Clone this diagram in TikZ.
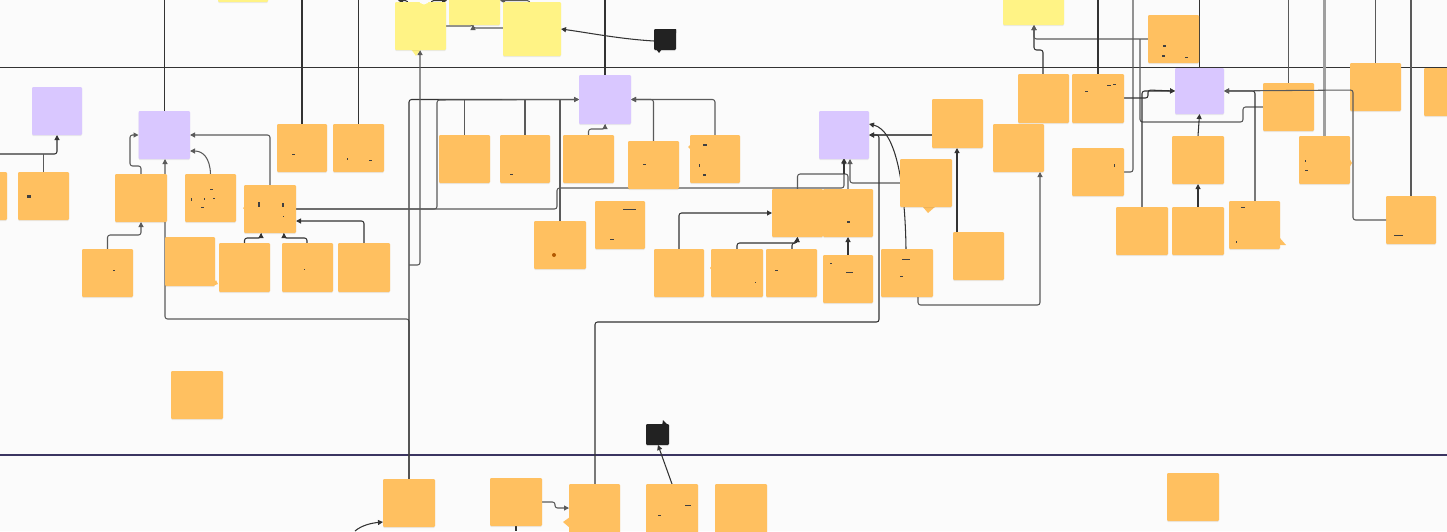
\documentclass[tikz,border=0pt]{standalone}
\usetikzlibrary{arrows.meta,shadows,backgrounds}
\pgfdeclarelayer{bglayer}
\pgfdeclarelayer{lines}
\pgfsetlayers{bglayer,lines,main}
\definecolor{cbg}{HTML}{FBFBFB}
\definecolor{corange}{HTML}{FFC060}
\definecolor{cpurple}{HTML}{D9C7FF}
\definecolor{cyellow}{HTML}{FFF385}
\definecolor{cblack}{HTML}{222222}
\definecolor{cdark}{HTML}{333333}
\definecolor{cgray}{HTML}{5A5A5A}
\definecolor{cnavy}{HTML}{3B3561}
\tikzset{
  note/.style={inner sep=0pt,outer sep=0pt,rounded corners=1.2pt,
    drop shadow={shadow xshift=0pt,shadow yshift=-1pt,opacity=.07,fill=black}},
  orangenote/.style={note,fill=corange},
  purplenote/.style={note,fill=cpurple},
  yellownote/.style={note,fill=cyellow},
  blacknote/.style={note,fill=cblack},
  conn/.style={draw=cdark,line width=1.05pt,rounded corners=2.5pt},
  conngray/.style={conn,draw=cgray},
  tip/.style={-{Triangle[length=5pt,width=5pt]}},
  arr/.style={conn,tip},
  arrgray/.style={conngray,tip},
  lane/.style={line width=1.4pt},
}
\newcommand{\notebox}[6]{%
  \node[#6,minimum width={(#4-#2)*1pt},minimum height={(#5-#3)*1pt}] (#1) at ({(#2+#4)/2},{(#3+#5)/2}) {};}
\begin{document}
\begin{tikzpicture}[x=1pt,y=-1pt]
\path[use as bounding box] (0,0) rectangle (1447,531);
\begin{pgfonlayer}{bglayer}
\fill[cbg] (0,0) rectangle (1447,531);
\end{pgfonlayer}
\coordinate (topedge) at (0,0);
\coordinate (bottomedge) at (0,531);
\coordinate (leftlane) at (0,67.5);
\coordinate (rightlane) at (1447,67.5);
\coordinate (leftnavy) at (0,455);
\coordinate (rightnavy) at (1447,455);
\coordinate (leftin) at (0,154);
\coordinate (curvein) at (355,531);
% tails
\fill[corange] (216,280) -- (218,284) -- (212,286) -- cycle;
\fill[corange] (243,208) -- (246,205) -- (246,211) -- cycle;
\fill[corange] (710,268) -- (713,264) -- (713,272) -- cycle;
\fill[corange] (563,522) -- (570,517) -- (570,528) -- cycle;
\fill[corange] (688,147) -- (691,144) -- (691,150) -- cycle;
\fill[corange] (928,213) -- (922,206) -- (936,206) -- cycle;
\fill[corange] (1286,245) -- (1279,237) -- (1279,245) -- cycle;
\fill[corange] (1352,163) -- (1349,158) -- (1349,168) -- cycle;
\fill[cyellow] (416,56) -- (411,49) -- (421,49) -- cycle;
\fill[cblack] (659,53) -- (656,49) -- (662,49) -- cycle;
\fill[cblack] (663,420) -- (662,426) -- (669,426) -- cycle;
\fill[cblack] (676,33) -- (672,29) -- (676,29) -- cycle;
% purple
\notebox{P1}{32}{87}{82}{135}{purplenote}
\notebox{P2}{138.5}{111}{190}{159}{purplenote}
\notebox{P3}{579}{75}{631}{124}{purplenote}
\notebox{P4}{819}{111}{869}{159}{purplenote}
\notebox{P5}{1175}{68}{1224}{114}{purplenote}
% yellow
\notebox{Y0}{218}{-20}{268}{2}{yellownote}
\notebox{Y1}{395}{2}{446}{50}{yellownote}
\notebox{Y2}{449}{-20}{500}{25}{yellownote}
\notebox{Y3}{503}{2}{561}{56}{yellownote}
\notebox{Y4}{1003}{-20}{1064}{25}{yellownote}
\fill[cbg] (424,-1) circle (5.5pt);
% black
\notebox{B1}{654}{29}{676}{50}{blacknote}
\notebox{B2}{646}{424}{669}{445}{blacknote}
% orange
\notebox{A}{-40}{172}{7}{220}{orangenote}
\notebox{B}{18}{172}{69}{220}{orangenote}
\notebox{C}{115}{174}{167}{222}{orangenote}
\notebox{D}{185}{174}{236}{222}{orangenote}
\notebox{E}{244}{185}{296}{233}{orangenote}
\notebox{F}{277}{124}{327}{172}{orangenote}
\notebox{G}{333}{124}{384}{172}{orangenote}
\notebox{H}{82}{249}{133}{297}{orangenote}
\notebox{I}{165}{237}{215}{286}{orangenote}
\notebox{J}{219}{243}{270}{292}{orangenote}
\notebox{K}{282}{243}{333}{292}{orangenote}
\notebox{L}{338}{243}{390}{292}{orangenote}
\notebox{BG}{171}{371}{223}{419}{orangenote}
\notebox{M}{439}{135}{490}{183}{orangenote}
\notebox{N}{500}{135}{550}{183}{orangenote}
\notebox{O}{563}{135}{614}{183}{orangenote}
\notebox{Q}{628}{141}{679}{189}{orangenote}
\notebox{R}{690}{135}{740}{183}{orangenote}
\notebox{S}{534}{221}{586}{269}{orangenote}
\notebox{T}{595}{201}{645}{249}{orangenote}
\notebox{U}{654}{249}{704}{297}{orangenote}
\notebox{V}{711}{249}{763}{297}{orangenote}
\notebox{W}{766}{249}{817}{297}{orangenote}
\notebox{X}{772}{189}{823}{237}{orangenote}
\notebox{Z}{823}{189}{873}{237}{orangenote}
\notebox{AA}{823}{255}{873}{303}{orangenote}
\notebox{AB}{881}{249}{933}{297}{orangenote}
\notebox{AC}{932}{99}{983}{148}{orangenote}
\notebox{AD}{900}{159}{952}{207}{orangenote}
\notebox{AE}{953}{232}{1004}{280}{orangenote}
\notebox{AF}{1148}{15}{1199}{63}{orangenote}
\notebox{AG}{1018}{74}{1069}{123}{orangenote}
\notebox{AH}{1072}{74}{1124}{123}{orangenote}
\notebox{AI}{1263}{83}{1314}{131}{orangenote}
\notebox{AJ}{1350}{63}{1401}{111}{orangenote}
\notebox{AK}{1424}{68}{1470}{116}{orangenote}
\notebox{AL}{993}{124}{1044}{172}{orangenote}
\notebox{AM}{1072}{148}{1124}{196}{orangenote}
\notebox{AN}{1172}{136}{1224}{184}{orangenote}
\notebox{AO}{1299}{136}{1350}{184}{orangenote}
\notebox{AP}{1116}{207}{1168}{255}{orangenote}
\notebox{AQ}{1172}{207}{1224}{255}{orangenote}
\notebox{AR}{1229}{201}{1280}{249}{orangenote}
\notebox{AS}{1386}{196}{1436}{244}{orangenote}
\notebox{BA}{383}{479}{435}{527}{orangenote}
\notebox{BB}{490}{478}{542}{526}{orangenote}
\notebox{BC}{569}{484}{620}{540}{orangenote}
\notebox{BD}{646}{484}{698}{540}{orangenote}
\notebox{BE}{715}{484}{767}{540}{orangenote}
\notebox{BF}{1167}{473}{1219}{521}{orangenote}
% text remnants
\foreach \sx/\sy/\sw/\sh in {27/195/4/3,258/202/2/5,281.7/203/2/4,283/216/1/1,210/188.5/3/1,191/198/1/3,204/198/1/2,213/198/2/1,201/207/3/1,304/269/1/1,113/270/2/1,623/209/13/1,610/239/4/1,703/143.5/4/2,699/164/1/3,703/174/3/2,1107/84.5/4/1,1113/84/3/1,1085/91/3/1,1114/164/1/3,1241/207/4/1,1236/241/1/2,1394/235/9/1,1305/170/3/1,1305/160/1/2,847/221/3/2,900/276/3/1,902/259/8/1,830/263/2/1,846/272/7/1,643/164/3/1,510/174/3/1,775/270/3/1,755/282/1/1,685/505/6/1,658/515/3/1,347/158/1/2,369/160/3/1,292/154/3/1,1162/55/3/2,1185/57/3/1,1163/45/3/2}
  \fill[black!75] (\sx,\sy) rectangle ++(\sw,\sh);
\fill[orange!70!black] (554,255) circle (2pt);
% connectors below the notes
\begin{pgfonlayer}{lines}
\draw[lane,draw=cdark] (leftlane) -- (rightlane);
\draw[lane,draw=cnavy] (leftnavy) -- (rightnavy);
\draw[arr] (leftin) -| (P1.south);
\draw[conngray] (B.north) -- (B.north |- leftin);
\draw[arrgray] (C.north) |- (130,166) |- (P2.west);
\draw[arrgray] (H.north) |- (141,235) -- (C.south);
\draw[arrgray] (D.north) .. controls (210,158) and (203,151) .. (P2.east |- 0,151);
\draw[arrgray] (E.north) |- (P2.east);
\draw[conn] (P2.north) -- (P2.north |- topedge);
\draw[arrgray] (BA.north) |- (165,319) -- (165,190) -- (P2.south -| 165,0);
\draw[conn] (F.north) -- (F.north |- topedge);
\draw[conn] (G.north) -- (G.north |- topedge);
\draw[arr] (BA.north) |- (P3.west);
\draw[arrgray] (BA.north |- 0,265) -| (Y1.south -| 420,0);
\draw[arrgray] (E.east |- 0,209) -| (437,100) -- (P3.west);
\draw[arrgray] (E.east |- 0,209) -| (557,188) -| (P4.south -| 844,0);
\draw[arr] (L.north -| 364,0) |- (E.east |- 0,221);
\draw[arr] (J.north) |- (261,238) -- (E.south -| 261,0);
\draw[arr] (K.north -| 307,0) |- (284,238) -- (E.south -| 284,0);
\draw[conngray] (M.north) -- (M.north |- P3.west);
\draw[conngray] (N.north) -- (N.north |- P3.west);
\draw[conngray] (S.north) -- (S.north |- P3.west);
\draw[arrgray] (O.north) |- (605,129) -- (P3.south);
\draw[arrgray] (Q.north) |- (P3.east);
\draw[arrgray] (R.north) |- (P3.east);
\draw[conn] (P3.north) -- (P3.north |- topedge);
\draw[arrgray] (Y1.east |- 0,26) -| (Y2.south -| 473,0);
\draw[arrgray] (Y3.west |- 0,28) -| (Y2.south -| 473,0);
\draw[arr] (Y1.north -| 408,0) |- (398,0.7);
\draw[arr] (Y1.north -| 431,0) |- (447,0.7);
\draw[arrgray] (Y3.north -| 530,0) |- (Y2.east |- 0,0.7);
\draw[arr] (B1.west |- 0,41) .. controls (620,39) and (590,33) .. (Y3.east |- 0,29);
\draw[arr] (U.north) |- (X.west);
\draw[arr] (V.north -| 737,0) |- (797,243) -- (X.south);
\draw[arr] (W.north -| 792,0) |- (797,243) -- (X.south);
\draw[arr] (AA.north) -- (Z.south -| 848,0);
\draw[conngray] (X.north) |- (848,174) -- (Z.north -| 848,0);
\draw[arr,line width=1.5pt,shorten >=-1pt] (844,174) -- (P4.south -| 844,0);
\draw[arrgray] (AD.west |- 0,183) -| (P4.south -| 850,0);
\draw[arrgray] (AC.west |- 0,135) -- (P4.east);
\draw[arr] (AE.north -| 957,0) -- (AC.south -| 957,0);
\draw[arr] (AB.north -| 906,0) .. controls (905,180) and (895,130) .. (P4.east |- 0,124);
\draw[arrgray] (AB.south -| 918,0) |- (1040,305) -- (AL.south -| 1040,0);
\draw[arr] (BC.north -| 595,0) |- (879,322) |- (P4.east);
\draw[arr] (AG.north -| 1043,0) |- (1034,50) -- (Y4.south -| 1034,0);
\draw[arrgray] (AF.west |- 0,39) -| (Y4.south -| 1034,0);
\draw[conn] (AH.north) -- (AH.north |- topedge);
\draw[conngray] (AM.east |- 0,172) -| (1133,0);
\draw[conn] (P5.north) -- (P5.north |- topedge);
\draw[conngray] (AI.west |- 0,107) -| (1243,122) -| (1140,39);
\draw[arr] (AH.east |- 0,98) -| (1148,90) -- (P5.west);
\draw[arr] (AP.north -| 1142,0) |- (P5.west);
\draw[arr] (AN.north) -- (P5.south);
\draw[arr] (AQ.north -| 1198,0) -- (AN.south -| 1198,0);
\draw[arr] (AR.north -| 1255,0) |- (P5.east);
\draw[conngray] (AI.north) -- (AI.north |- topedge);
\draw[draw=gray!75,line width=2.6pt] (AO.north) -- (AO.north |- topedge);
\draw[conngray] (AJ.north) -- (AJ.north |- topedge);
\draw[conngray] (AS.north) -- (AS.north |- topedge);
\draw[arrgray] (BB.east |- 0,502) -| (555,508) -- (BC.west |- 0,508);
\draw[conn] (BB.south) -- (BB.south |- bottomedge);
\draw[arr] (curvein) .. controls (362,525) and (372,523) .. (BA.west |- 0,522);
\draw[arr] (BD.north -| 672,0) -- (B2.south -| 658,0);
\end{pgfonlayer}
% connector over the notes
\draw[arrgray] (AS.west) -| (1353,90) -- (P5.east);
\end{tikzpicture}
\end{document}
